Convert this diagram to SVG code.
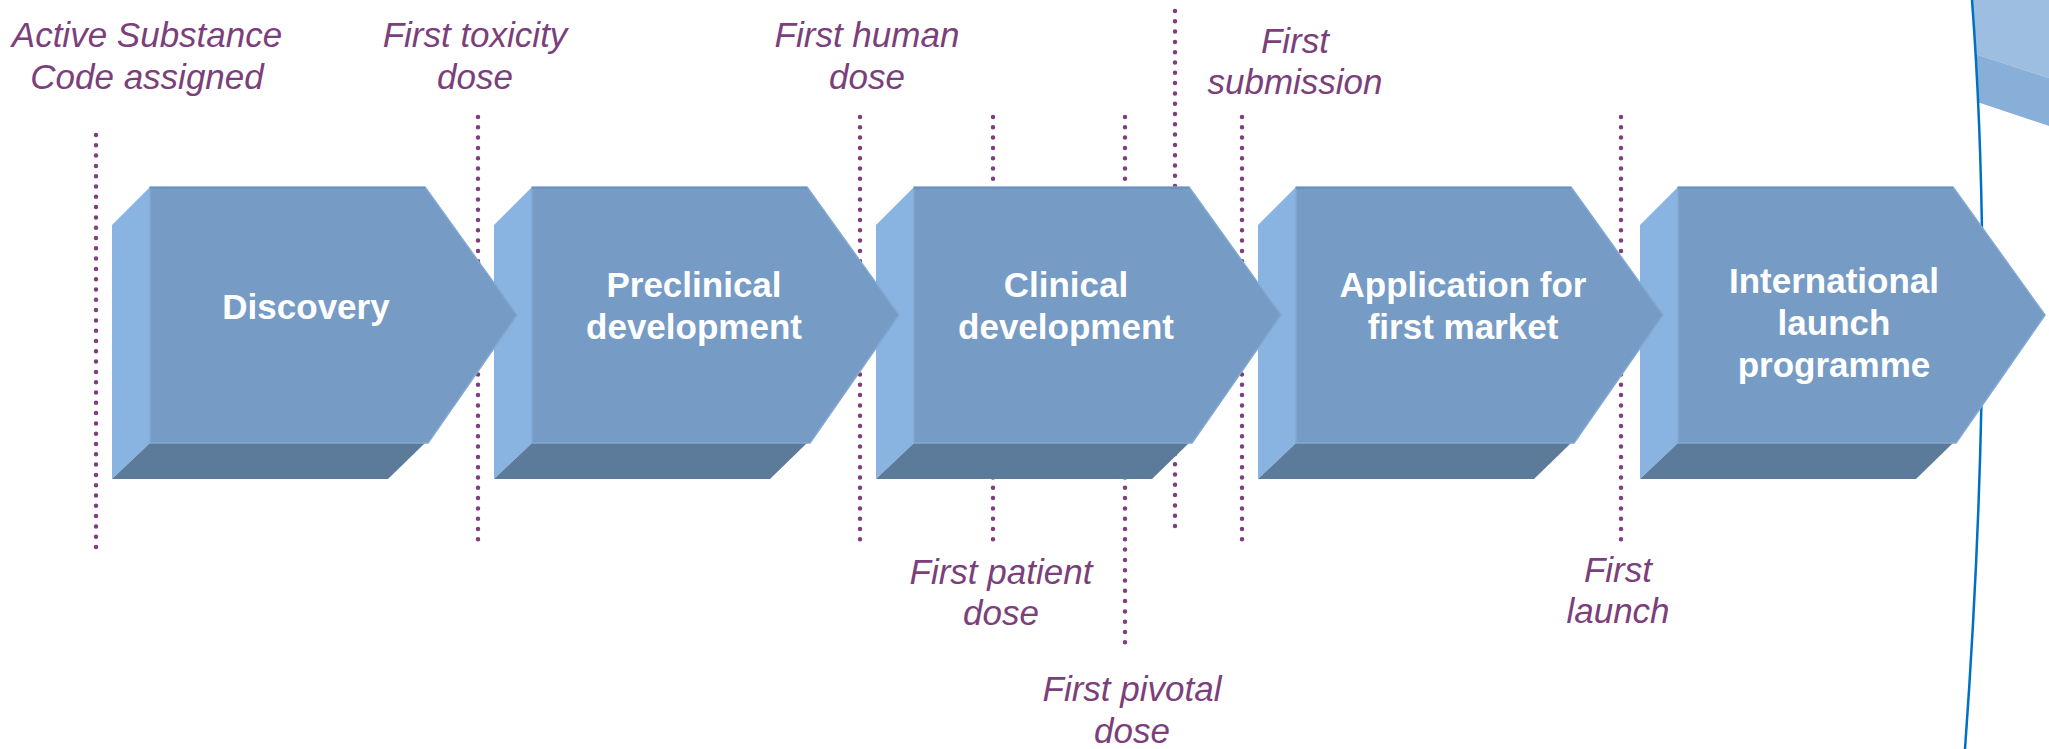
<svg xmlns="http://www.w3.org/2000/svg" xmlns:xlink="http://www.w3.org/1999/xlink" width="2049" height="749" viewBox="0 0 2049 749">
<style>
.lbl{font-family:"Liberation Sans",Arial,sans-serif;font-style:italic;font-size:35px;fill:#7B3F7B;text-anchor:middle}
.ttl{font-family:"Liberation Sans",Arial,sans-serif;font-weight:bold;font-size:35px;fill:#FFFFFF;text-anchor:middle}
.dot{stroke:#7F3F7F;stroke-width:4.5;stroke-linecap:round;stroke-dasharray:0 10.3;fill:none}
.side{fill:#89B4E1}
.bot{fill:#5C7A99}
.front{fill:#769CC5;stroke:#82A8D2;stroke-width:1.5;stroke-linejoin:round}
.topline{stroke:#6D92BC;stroke-width:2}
</style>
<defs>
<g id="box">
<polygon class="side" points="112,225 150,187 150,443 112,479"/>
<polygon class="bot" points="112,479 150,443 425,443 388,479"/>
<polygon class="front" points="150,187 425,187 517,315 428,443 150,443"/>
<line class="topline" x1="150" y1="188" x2="425" y2="188"/>
</g>
<clipPath id="rightclip">
<path d="M1972,0 Q1996,320 1965,749 L2049,749 L2049,0 Z"/>
</clipPath>
</defs>
<g id="decoration">
<g clip-path="url(#rightclip)">
<polygon points="1950,0 2049,0 2049,78 1950,46" fill="#9DBEE0"/>
<polygon points="1950,46 2049,78 2049,126 1950,93" fill="#88AFD8"/>
</g>
<path d="M1972,0 Q1996,320 1965,749" fill="none" stroke="#0070C0" stroke-width="2.5"/>
</g>
<g id="connectors">
<line class="dot" x1="96" y1="135" x2="96" y2="556"/>
<line class="dot" x1="478" y1="117" x2="478" y2="540"/>
<line class="dot" x1="860" y1="117" x2="860" y2="540"/>
<line class="dot" x1="993" y1="117" x2="993" y2="540"/>
<line class="dot" x1="1125" y1="117" x2="1125" y2="643"/>
<line class="dot" x1="1175" y1="11" x2="1175" y2="536"/>
<line class="dot" x1="1242" y1="117" x2="1242" y2="540"/>
<line class="dot" x1="1621" y1="117" x2="1621" y2="540"/>
</g>
<g id="node-international">
<use xlink:href="#box" transform="translate(1528,0)"/>
<text class="ttl" x="1834" y="293">International</text>
<text class="ttl" x="1834" y="335">launch</text>
<text class="ttl" x="1834" y="377">programme</text>
</g>
<g id="node-application">
<use xlink:href="#box" transform="translate(1146,0)"/>
<text class="ttl" x="1463" y="297">Application for</text>
<text class="ttl" x="1463" y="339">first market</text>
</g>
<g id="node-clinical">
<use xlink:href="#box" transform="translate(764,0)"/>
<text class="ttl" x="1066" y="297">Clinical</text>
<text class="ttl" x="1066" y="339">development</text>
</g>
<g id="node-preclinical">
<use xlink:href="#box" transform="translate(382,0)"/>
<text class="ttl" x="694" y="297">Preclinical</text>
<text class="ttl" x="694" y="339">development</text>
</g>
<g id="node-discovery">
<use xlink:href="#box"/>
<text class="ttl" x="306" y="319">Discovery</text>
</g>
<g id="labels">
<text class="lbl" x="147" y="47">Active Substance</text>
<text class="lbl" x="147" y="89">Code assigned</text>
<text class="lbl" x="475" y="47">First toxicity</text>
<text class="lbl" x="475" y="89">dose</text>
<text class="lbl" x="867" y="47">First human</text>
<text class="lbl" x="867" y="89">dose</text>
<text class="lbl" x="1295" y="53">First</text>
<text class="lbl" x="1295" y="94">submission</text>
<text class="lbl" x="1001" y="584">First patient</text>
<text class="lbl" x="1001" y="625">dose</text>
<text class="lbl" x="1132" y="701">First pivotal</text>
<text class="lbl" x="1132" y="743">dose</text>
<text class="lbl" x="1618" y="582">First</text>
<text class="lbl" x="1618" y="623">launch</text>
</g>
</svg>
